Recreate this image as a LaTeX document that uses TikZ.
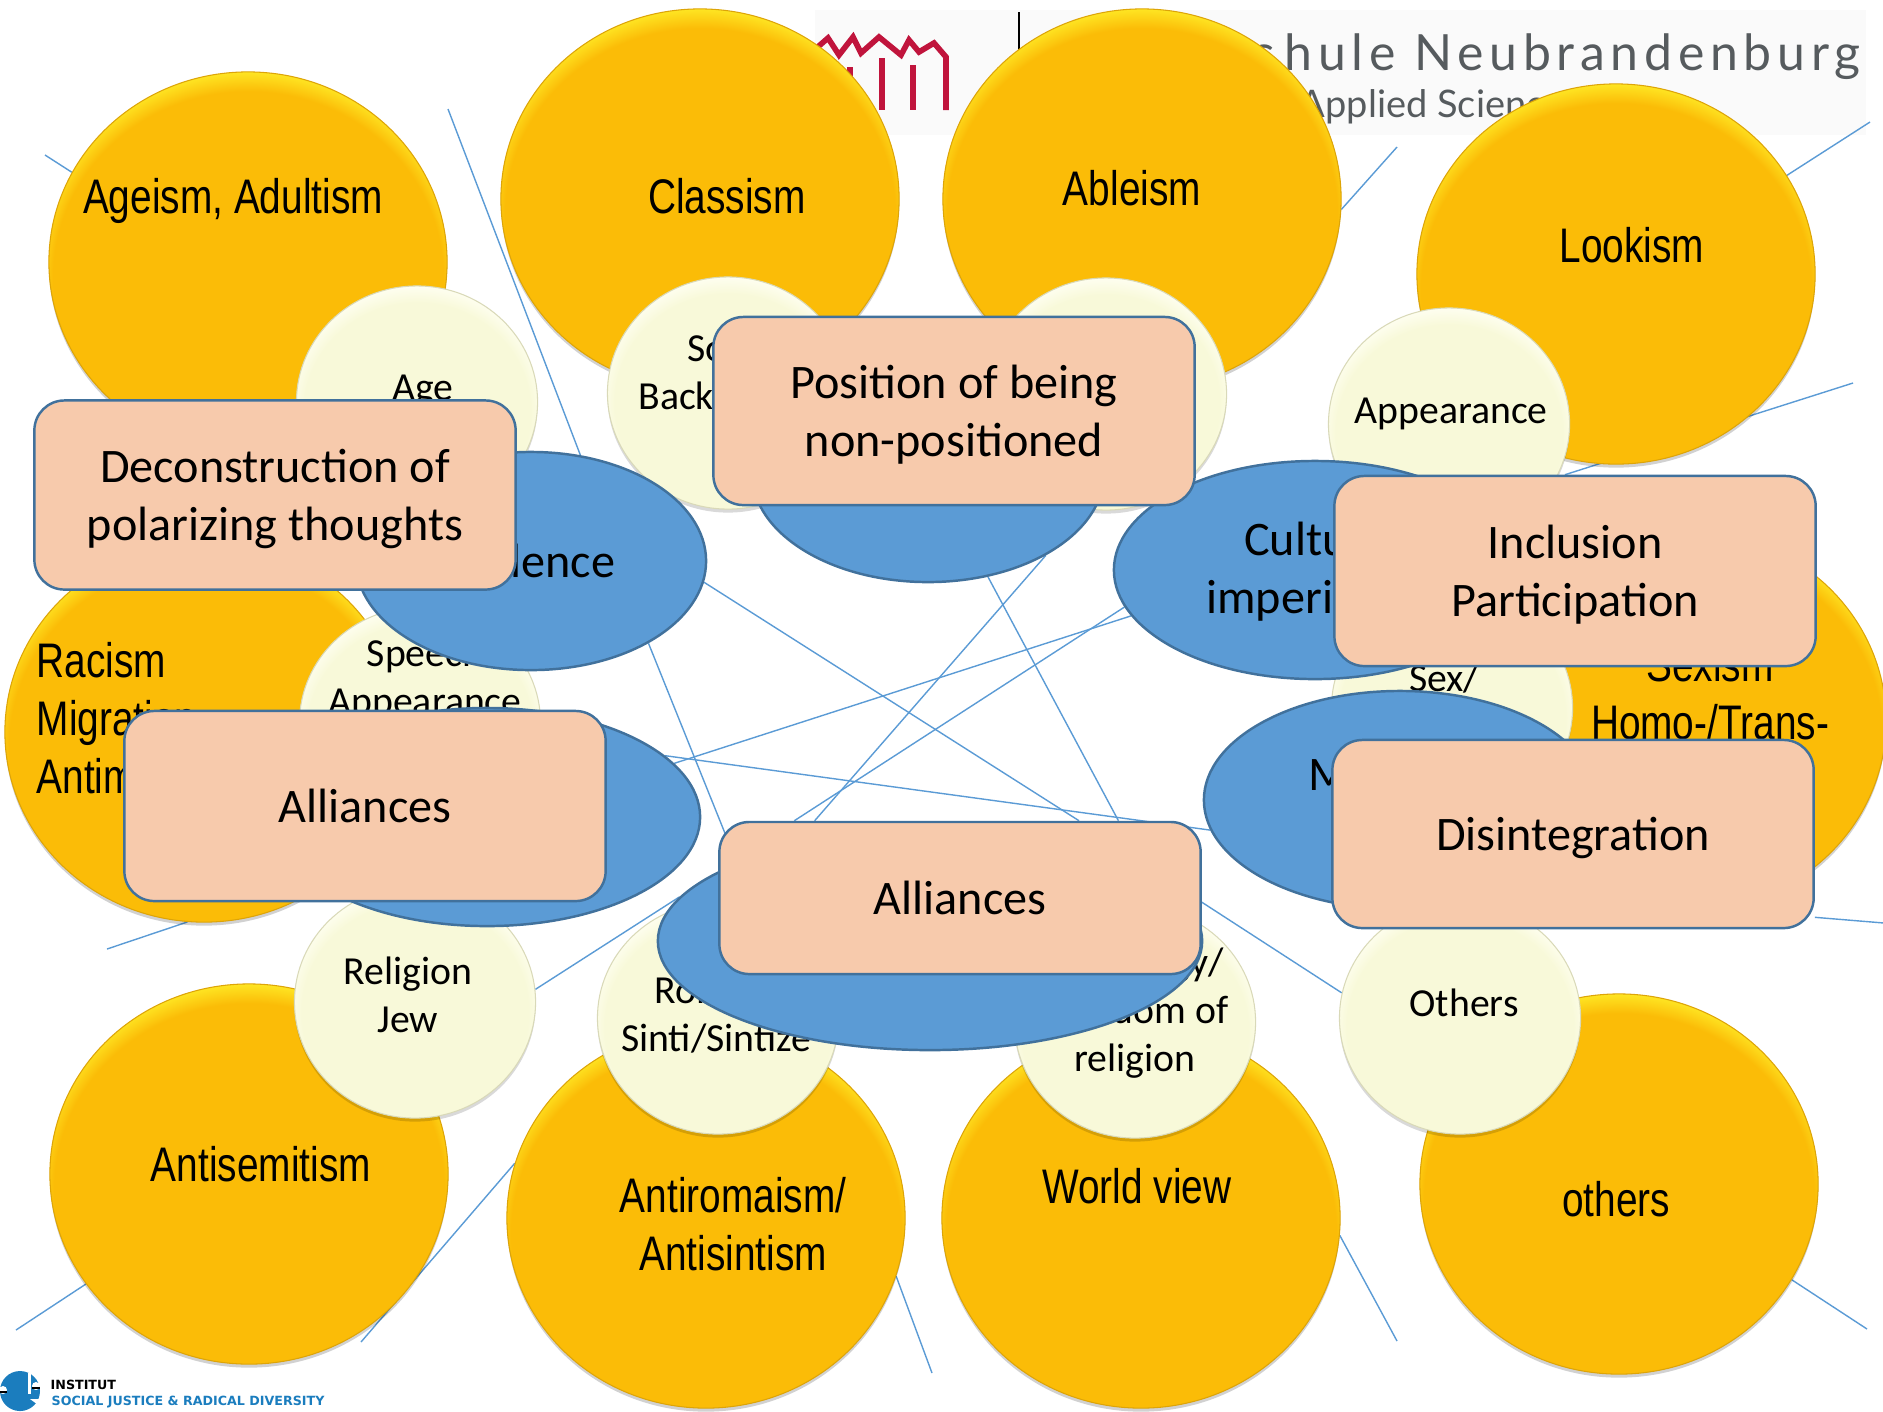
\documentclass[tikz,border=0pt]{standalone}
\usepackage{fontspec}
\usetikzlibrary{shapes.geometric,shadows,backgrounds}
\newfontfamily\calfont{Carlito}
\newfontfamily\narrowfont[FakeStretch=0.8]{Liberation Sans}
\newfontfamily\logofont[LetterSpace=11.5]{Lato}
\newfontfamily\subfont{Lato}
\newfontfamily\instfont{DejaVu Sans}
\definecolor{gold}{HTML}{FBBC07}
\definecolor{goldrim}{HTML}{FFF02A}
\definecolor{goldedge}{HTML}{DDA408}
\definecolor{cream}{HTML}{F8F9D9}
\definecolor{creamrim}{HTML}{FFFFF4}
\definecolor{creamedge}{HTML}{D9D9B8}
\definecolor{bluefill}{HTML}{5B9BD5}
\definecolor{blueline}{HTML}{41719C}
\definecolor{pinkfill}{HTML}{F7CAAC}
\definecolor{redlogo}{HTML}{C0143C}
\definecolor{graylogo}{HTML}{565B5E}
\definecolor{instblue}{HTML}{1B7DBE}
\pgfdeclareradialshading{goldshade}{\pgfpoint{0bp}{-4bp}}{color(0bp)=(gold); color(24.5bp)=(gold); color(27.5bp)=(goldrim); color(50bp)=(goldrim)}
\pgfdeclareradialshading{creamshade}{\pgfpoint{0bp}{-4bp}}{color(0bp)=(cream); color(23.5bp)=(cream); color(27.5bp)=(creamrim); color(50bp)=(creamrim)}
\begin{document}
\begin{tikzpicture}[x=0.01cm,y=-0.01cm,
   goldball/.style={ellipse, shading=goldshade, draw=goldedge, line width=0.3pt, inner sep=0pt, minimum width=3.98cm, minimum height=3.80cm, drop shadow={shadow xshift=0pt, shadow yshift=-1pt, fill=black, opacity=0.18}},
   creamball/.style={ellipse, shading=creamshade, draw=creamedge, line width=0.3pt, inner sep=0pt, minimum width=2.41cm, minimum height=2.32cm, drop shadow={shadow xshift=0pt, shadow yshift=-1pt, fill=black, opacity=0.15}},
   blueball/.style={ellipse, fill=bluefill, draw=blueline, line width=0.7pt, inner sep=0pt, minimum height=2.18cm, align=center, font=\calfont\fontsize{13.7}{16.5}\selectfont},
   bluetext/.style={inner sep=0pt, align=center, font=\calfont\fontsize{13.7}{16.5}\selectfont},
   pinkbox/.style={rectangle, rounded corners=0.3cm, fill=pinkfill, draw=blueline, line width=0.7pt, inner sep=0pt, minimum width=4.81cm, align=center, text depth=0pt, font=\calfont\fontsize{13.7}{16.5}\selectfont},
   goldtext/.style={inner sep=0pt, align=center, font=\narrowfont\fontsize{13.8}{16.6}\selectfont},
   creamtext/.style={inner sep=0pt, align=center, font=\calfont\fontsize{11.3}{13.7}\selectfont},
   thinline/.style={draw=bluefill, line width=0.4pt},
   redline/.style={draw=redlogo, line width=1.6pt}]
   \useasboundingbox (0,0) rectangle (1883,1411);

   \node[goldball] (ageism) at (248,262) {};
   \node[goldball] (classism) at (700,199) {};
   \node[goldball] (ableism) at (1142,199) {};
   \node[goldball] (lookism) at (1616,274) {};
   \node[goldball] (racism) at (204,732) {};
   \node[goldball] (sexism) at (1687,721) {};
   \node[goldball] (antisem) at (249,1174) {};
   \node[goldball] (antirom) at (706,1218) {};
   \node[goldball] (worldview) at (1141,1218) {};
   \node[goldball] (otherism) at (1619,1184) {};

   \node[goldtext] (ageismtext) at (233,201) {Ageism, Adultism};
   \node[goldtext] (classismtext) at (727,196) {Classism};
   \node[goldtext] (ableismtext) at (1132,188) {Ableism};
   \node[goldtext] (lookismtext) at (1632,245) {Lookism};
   \node[goldtext, align=left, anchor=west] (racismtext) at (36,718) {Racism\\Migration\\Antim};
   \node[goldtext] (sexismtext) at (1710,693) {Sexism\\Homo-/Trans-};
   \node[goldtext] (antisemtext) at (261,1164) {Antisemitism};
   \node[goldtext] (antiromtext) at (733,1224) {Antiromaism/\\Antisintism};
   \node[goldtext] (worldviewtext) at (1137,1186) {World view};
   \node[goldtext] (otherismtext) at (1616,1199) {others};

   \node[creamball] (age) at (417,402) {};
   \node[creamball] (social) at (728,393) {};
   \node[creamball] (ability) at (1106,394) {};
   \node[creamball] (appearance) at (1449,424) {};
   \node[creamball] (speech) at (420,723) {};
   \node[creamball] (sex) at (1452,708) {};
   \node[creamball] (religion) at (415,1002) {};
   \node[creamball] (roma) at (718,1018) {};
   \node[creamball] (freedom) at (1135,1022) {};
   \node[creamball] (others) at (1460,1018) {};

   \node[creamtext] (agetext) at (423,391) {Age};
   \node[creamtext] (socialtext) at (734,375) {Social\\Background};
   \node[creamtext] (appearancetext) at (1451,414) {Appearance};
   \node[creamtext] (speechtext) at (425,680) {Speech\\Appearance};
   \node[creamtext] (sextext) at (1444,679) {Sex/};
   \node[creamtext] (religiontext) at (408,995) {Religion\\Jew};
   \node[creamtext] (romatext) at (716,1015) {Romani\\Sinti/Sintize};
   \node[creamtext] (freedomtext) at (1135,1013) {\hspace*{0.6em}Ideology/\\Freedom of\\religion};
   \node[creamtext] (otherstext) at (1464,1003) {Others};

   \node[blueball, minimum width=3.50cm] (violence) at (531,561) {Violence};
   \node[blueball, minimum width=3.52cm] (powerless) at (928,473) {};
   \node[blueball, minimum width=4.02cm] (culture) at (1315,570) {};
   \node[blueball, minimum width=4.26cm] (exploit) at (487,817) {};
   \node[blueball, minimum width=3.92cm] (margin) at (1400,800) {};
   \node[blueball, minimum width=5.44cm] (bottomblue) at (930,941) {};
   \node[bluetext] (culturetext) at (1321,572) {Cultural\\imperialism};
   \node[bluetext, anchor=west] (margintext) at (1308,775) {M};

   \node[pinkbox, minimum height=1.89cm] (deconstruct) at (275,495) {Deconstruction of\\polarizing thoughts};
   \node[pinkbox, minimum height=1.88cm] (position) at (954,411) {Position of being\\non-positioned};
   \node[pinkbox, minimum height=1.90cm] (inclusion) at (1575,571) {Inclusion\\Participation};
   \node[pinkbox, minimum height=1.90cm] (allianceleft) at (365,806) {Alliances};
   \node[pinkbox, minimum height=1.52cm] (alliancebottom) at (960,898) {Alliances};
   \node[pinkbox, minimum height=1.88cm] (disintegrate) at (1573,834) {Disintegration};

   \begin{scope}[on background layer]
   \fill[fill=black!2] (815,10) rectangle (1866,135);
   \draw[redline, line join=miter] (812,52) -- (828,38) -- (839,55) -- (853,37) -- (861,53) -- (879,37) -- (901,55) -- (909,40) -- (919,52) -- (934,43) -- (946,57) -- (946,110);
   \draw[redline] (850,67) -- (850,110);
   \draw[redline] (882,58) -- (882,110);
   \draw[redline] (913,65) -- (913,110);
   \draw[black, line width=0.5pt] (1019,12) -- (1019,100);
   \node[anchor=base east, inner sep=0pt, text=graylogo, font=\logofont\fontsize{14.2}{16}\selectfont] (logotext) at (1861,70) {Hochsc\kern3pt hule Neubrandenburg};
   \node[anchor=base west, inner sep=0pt, text=graylogo, font=\subfont\fontsize{10.8}{12}\selectfont] (logosub) at (1076,117) {University of Applied Sciences};

   \coordinate (ageismend) at (45,155);
   \coordinate (violenceend) at (448,109);
   \coordinate (racismend) at (107,949);
   \coordinate (antisemend) at (16,1330);
   \coordinate (antiromend) at (361,1342);
   \coordinate (antiromlow) at (932,1373);
   \coordinate (worldviewend) at (1397,1341);
   \coordinate (otherismend) at (1867,1329);
   \coordinate (disintend) at (1884,923);
   \coordinate (lookismend) at (1870,122);
   \coordinate (inclusionend) at (1853,383);
   \coordinate (ableismend) at (1397,147);
   \draw[thinline] (ageismend) -- (ageism.153);
   \draw[thinline] (violenceend) -- (violence.65);
   \draw[thinline] (racismend) -- (racism.265);
   \draw[thinline] (antisemend) -- (antisem.214);
   \draw[thinline] (antiromend) -- (antirom.164);
   \draw[thinline] (antiromlow) -- (antirom.343);
   \draw[thinline] (worldviewend) -- (worldview.355);
   \draw[thinline] (otherismend) -- (otherism.331);
   \draw[thinline] (disintend) -- (disintegrate.341);
   \draw[thinline] (lookismend) -- (lookism.30);
   \draw[thinline] (inclusionend) -- (inclusion.96);
   \draw[thinline] (ableismend) -- (ableism.357);
   \draw[thinline] (violence.353) -- (alliancebottom.33);
   \draw[thinline, shorten >=-0.15cm] (violence.325) -- ([xshift=0.05cm]alliancebottom.164);
   \draw[thinline] (exploit.19) -- (margin.189);
   \draw[thinline] (exploit.16) -- (culture.194);
   \draw[thinline] (alliancebottom.155) -- (culture.191);
   \draw[thinline] (alliancebottom.152.7) -- (powerless.325);
   \draw[thinline] (powerless.300) -- (alliancebottom.26);
   \draw[thinline] (religion.6) -- (bottomblue.170);
   \draw[thinline] (alliancebottom.359) -- (others.168);
   \end{scope}

   \node[circle, fill=instblue, inner sep=0pt, minimum size=0.4cm] (instlogo) at (20,1391) {};
   \fill[white] (30,1399) -- (44,1399) -- (44,1409) -- cycle;
   \fill[white] (28,1373) rectangle (31,1394);
   \fill[white] (36,1386) circle (4);
   \fill[white] (3,1390) circle (4);
   \fill[black] (32,1387) rectangle (40,1389);
   \fill[black] (0,1391) rectangle (7,1393);
   \node[anchor=base west, inner sep=0pt, font=\instfont\bfseries\fontsize{3.6}{4}\selectfont] (insttext) at (50,1389) {INSTITUT};
   \node[anchor=base west, inner sep=0pt, text=instblue, font=\instfont\bfseries\fontsize{3.6}{4}\selectfont] (instname) at (51,1405) {SOCIAL JUSTICE \& RADICAL DIVERSITY};
 \end{tikzpicture}
\end{document}
